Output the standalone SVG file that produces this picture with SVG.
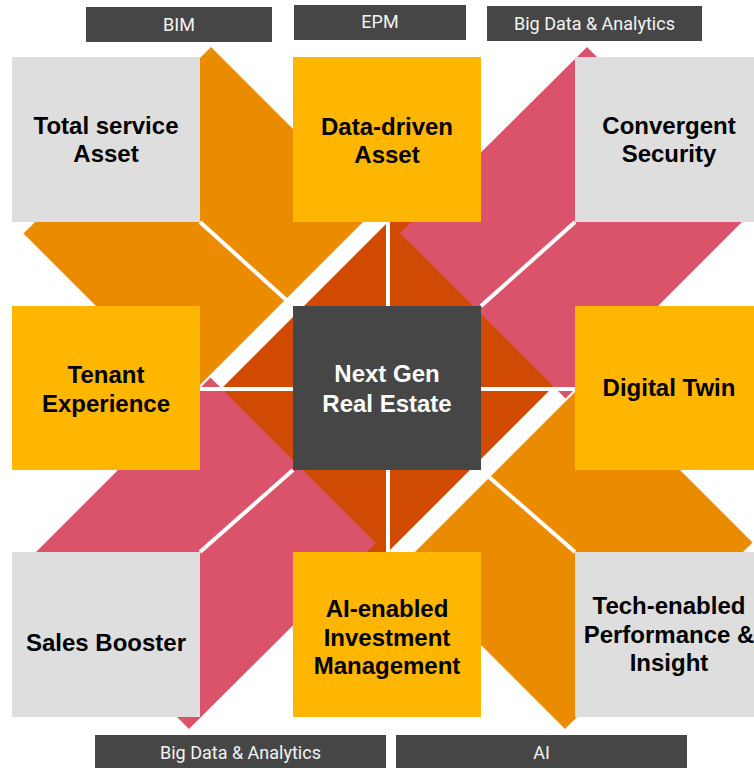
<svg xmlns="http://www.w3.org/2000/svg" width="754" height="768" viewBox="0 0 754 768">
<style>
.grey{fill:#DEDEDE}
.yel{fill:#FFB600}
.dark{fill:#464646}
.t{font-family:"Liberation Sans",Arial,sans-serif;font-weight:bold;font-size:24px;text-anchor:middle;fill:#000}
.tw{fill:#FFFFFF}
.lb{font-family:Roboto,"Liberation Sans",sans-serif;font-size:18px;text-anchor:middle;fill:#F4F4F4}
.wl{stroke:#FFFFFF;stroke-width:4;fill:none}
</style>
<rect width="754" height="768" fill="#FFFFFF"/>
<g id="shapes">
<polygon id="core" points="400,210 565,375 375,565 210,400" fill="#D04A02"/>
<polygon id="pink-tr" points="587,47 752,212 565.5,398.5 400,233" fill="#DB536A"/>
<polygon id="pink-bl" points="189,729 24,564 210.5,377.5 376,543" fill="#DB536A"/>
<polygon id="orange-tl" points="211,47 374.5,210.5 187.5,397.5 23.5,233.5" fill="#EB8C00"/>
<polygon id="orange-br" points="565,729 401.5,565.5 588.5,378.5 752.5,542.5" fill="#EB8C00"/>
</g>
<g id="connectors">
<line class="wl" x1="388" y1="222" x2="388" y2="552"/>
<line class="wl" x1="200" y1="389" x2="575" y2="389"/>
<line class="wl" x1="200" y1="222" x2="293" y2="306"/>
<line class="wl" x1="575" y1="222" x2="481" y2="306"/>
<line class="wl" x1="481" y1="470" x2="575" y2="552"/>
<line class="wl" x1="293" y1="470" x2="200" y2="552"/>
</g>
<g id="n-total">
<rect class="grey" x="12" y="57" width="188" height="165"/>
<text class="t" x="106" y="134">Total service</text>
<text class="t" x="106" y="162">Asset</text>
</g>
<g id="n-datadriven">
<rect class="yel" x="293" y="57" width="188" height="165"/>
<text class="t" x="387" y="135">Data-driven</text>
<text class="t" x="387" y="163">Asset</text>
</g>
<g id="n-convergent">
<rect class="grey" x="575" y="57" width="188" height="165"/>
<text class="t" x="669" y="134">Convergent</text>
<text class="t" x="669" y="162">Security</text>
</g>
<g id="n-tenant">
<rect class="yel" x="12" y="306" width="188" height="164"/>
<text class="t" x="106" y="383">Tenant</text>
<text class="t" x="106" y="412">Experience</text>
</g>
<g id="n-center">
<rect class="dark" x="293" y="306" width="188" height="164"/>
<text class="t tw" x="387" y="382">Next Gen</text>
<text class="t tw" x="387" y="412">Real Estate</text>
</g>
<g id="n-digitaltwin">
<rect class="yel" x="575" y="306" width="188" height="164"/>
<text class="t" x="669" y="396">Digital Twin</text>
</g>
<g id="n-sales">
<rect class="grey" x="12" y="552" width="188" height="165"/>
<text class="t" x="106" y="651">Sales Booster</text>
</g>
<g id="n-ai">
<rect class="yel" x="293" y="552" width="188" height="165"/>
<text class="t" x="387" y="617">AI-enabled</text>
<text class="t" x="387" y="646">Investment</text>
<text class="t" x="387" y="674">Management</text>
</g>
<g id="n-tech">
<rect class="grey" x="575" y="552" width="188" height="165"/>
<text class="t" x="669" y="614">Tech-enabled</text>
<text class="t" x="669" y="643">Performance &amp;</text>
<text class="t" x="669" y="671">Insight</text>
</g>
<g id="l-bim">
<rect class="dark" x="86" y="7" width="186" height="35"/>
<text class="lb" x="179" y="31">BIM</text>
</g>
<g id="l-epm">
<rect class="dark" x="294" y="5" width="172" height="35"/>
<text class="lb" x="380" y="28">EPM</text>
</g>
<g id="l-bigdata-top">
<rect class="dark" x="487" y="6" width="215" height="35"/>
<text class="lb" x="594.5" y="30">Big Data &amp; Analytics</text>
</g>
<g id="l-bigdata-bottom">
<rect class="dark" x="95" y="735" width="291" height="33"/>
<text class="lb" x="240.5" y="759">Big Data &amp; Analytics</text>
</g>
<g id="l-ai">
<rect class="dark" x="396" y="735" width="291" height="33"/>
<text class="lb" x="541.5" y="759">AI</text>
</g>
</svg>
